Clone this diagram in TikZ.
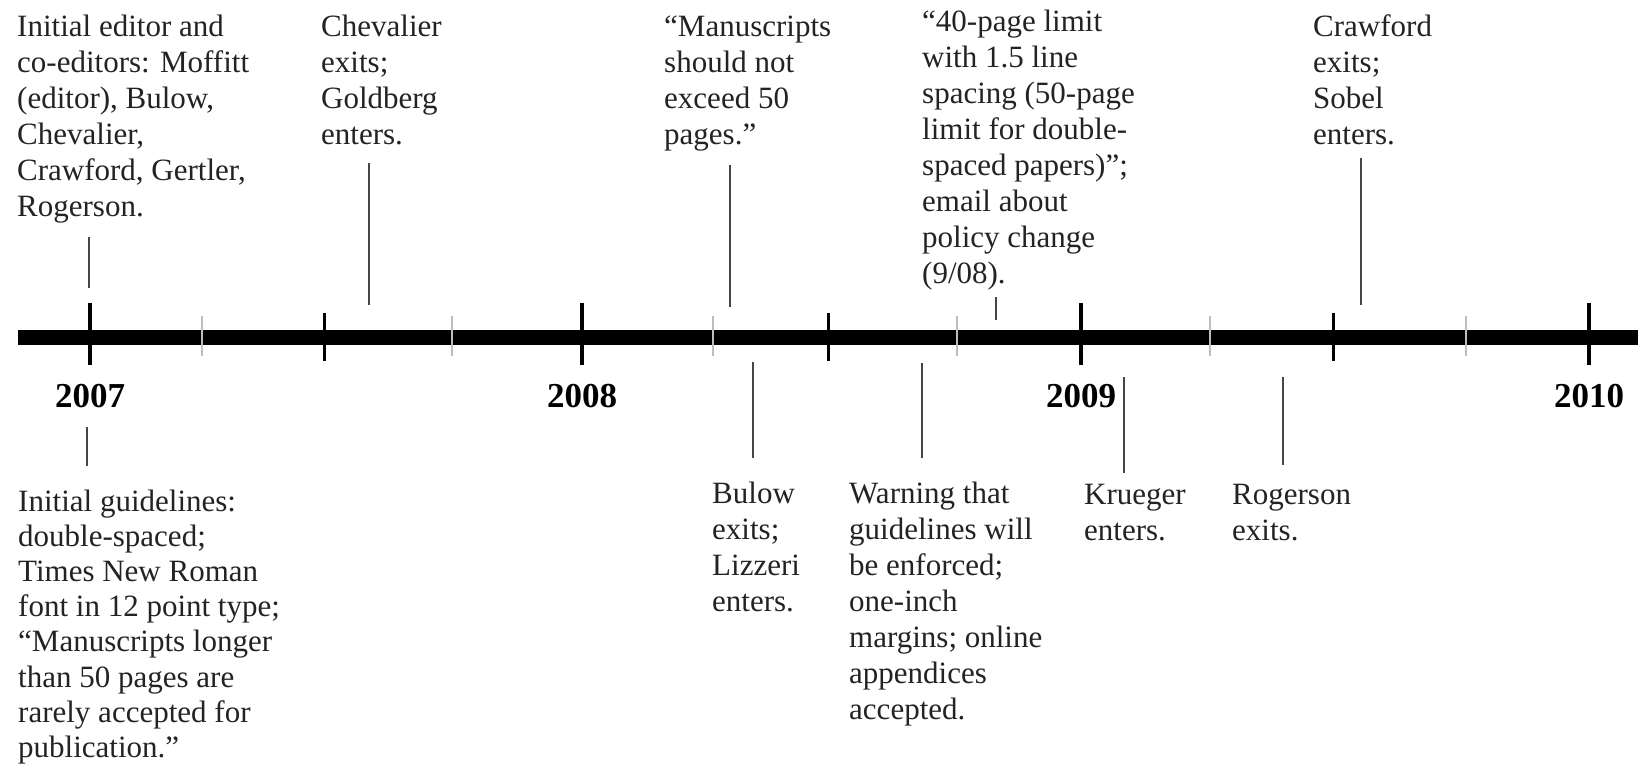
\documentclass[tikz,border=0pt]{standalone}
\usepackage{fontspec}
\setmainfont{Liberation Serif}
\definecolor{txtcol}{RGB}{35,35,35}
\definecolor{conncol}{RGB}{70,70,70}
\definecolor{minorcol}{RGB}{190,190,190}
\newcommand{\mylines}[1]{\begin{tabular}[t]{@{}l@{}}#1\end{tabular}}
\begin{document}
\begin{tikzpicture}[x=1pt,y=-1pt,
  txt/.style={anchor=base west, inner sep=0pt, text=txtcol, font=\fontsize{31}{36}\selectfont},
  txtb/.style={anchor=base west, inner sep=0pt, text=txtcol, font=\fontsize{31}{35.2}\selectfont},
  yr/.style={anchor=base, inner sep=0pt, font=\fontsize{35}{40}\selectfont\bfseries},
  conn/.style={draw=conncol, line width=2pt},
  majortick/.style={line width=4pt},
  halftick/.style={line width=3pt},
  minortick/.style={draw=minorcol, line width=1.5pt},
]
\useasboundingbox (0,0) rectangle (1638,765);
% axis
\coordinate (axL) at (18,337.5);
\coordinate (axR) at (1638,337.5);
\draw[line width=15pt] (axL) -- (axR);
% ticks
\foreach \x [count=\i] in {90,582,1081,1589}{
  \coordinate (mt\i a) at (\x,303);
  \coordinate (mt\i b) at (\x,365);
  \draw[majortick] (mt\i a) -- (mt\i b);
}
\foreach \x [count=\i] in {324,828,1333}{
  \coordinate (ht\i a) at (\x,313);
  \coordinate (ht\i b) at (\x,361);
  \draw[halftick] (ht\i a) -- (ht\i b);
}
\foreach \x [count=\i] in {202,452,713,957,1210,1466}{
  \coordinate (nt\i a) at (\x,316);
  \coordinate (nt\i b) at (\x,356);
  \draw[minortick] (nt\i a) -- (nt\i b);
}
% year labels
\node[yr] (y2007) at (90,407) {2007};
\node[yr] (y2008) at (582,407) {2008};
\node[yr] (y2009) at (1081,407) {2009};
\node[yr] (y2010) at (1589,407) {2010};
% upper texts
\node[txt] (tA) at (17,37) {\mylines{Initial editor and\\co-editors: Moffitt\\(editor), Bulow,\\Chevalier,\\Crawford, Gertler,\\Rogerson.}};
\node[txt] (tB) at (321,37) {\mylines{Chevalier\\exits;\\Goldberg\\enters.}};
\node[txt] (tC) at (664,37) {\mylines{“Manuscripts\\should not\\exceed 50\\pages.”}};
\node[txt] (tD) at (922,32) {\mylines{“40-page limit\\with 1.5 line\\spacing (50-page\\limit for double-\\spaced papers)”;\\email about\\policy change\\(9/08).}};
\node[txt] (tE) at (1313,37) {\mylines{Crawford\\exits;\\Sobel\\enters.}};
% lower texts
\node[txtb] (tF) at (18,511) {\mylines{Initial guidelines:\\double-spaced;\\Times New Roman\\font in 12 point type;\\“Manuscripts longer\\than 50 pages are\\rarely accepted for\\publication.”}};
\node[txt] (tG) at (712,503) {\mylines{Bulow\\exits;\\Lizzeri\\enters.}};
\node[txt] (tH) at (849,503) {\mylines{Warning that\\guidelines will\\be enforced;\\one-inch\\margins; online\\appendices\\accepted.}};
\node[txt] (tI) at (1084,504) {\mylines{Krueger\\enters.}};
\node[txt] (tJ) at (1232,504) {\mylines{Rogerson\\exits.}};
% connectors (upper)
\coordinate (cAa) at (89,237);  \coordinate (cAb) at (89,288);
\coordinate (cBa) at (369,163); \coordinate (cBb) at (369,305);
\coordinate (cCa) at (730,165); \coordinate (cCb) at (730,307);
\coordinate (cDa) at (996,297); \coordinate (cDb) at (996,320);
\coordinate (cEa) at (1361,158);\coordinate (cEb) at (1361,305);
% connectors (lower)
\coordinate (cFa) at (87,427);  \coordinate (cFb) at (87,466);
\coordinate (cGa) at (753,362); \coordinate (cGb) at (753,458);
\coordinate (cHa) at (922,363); \coordinate (cHb) at (922,458);
\coordinate (cIa) at (1124,377);\coordinate (cIb) at (1124,473);
\coordinate (cJa) at (1283,377);\coordinate (cJb) at (1283,465);
\foreach \c in {A,B,C,D,E,F,G,H,I,J}{
  \draw[conn] (c\c a) -- (c\c b);
}
\end{tikzpicture}
\end{document}
